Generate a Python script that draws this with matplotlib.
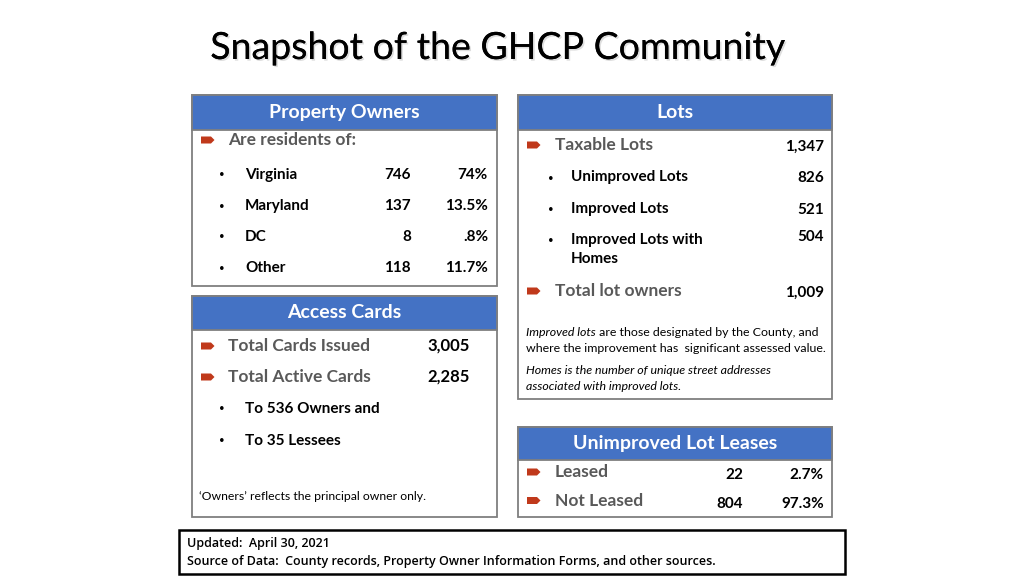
import matplotlib
matplotlib.use('Agg')
import matplotlib.pyplot as plt
import matplotlib.patches as mpatches
import matplotlib.patheffects as pe

# ── Data ────────────────────────────────────────────────────────────────────
title = 'Snapshot of the GHCP Community'

residence_states = ['Virginia', 'Maryland', 'DC', 'Other']
residence_counts = ['746', '137', '8', '118']
residence_pcts = ['74%', '13.5%', '.8%', '11.7%']

taxable_lots = '1,347'
lot_types = ['Unimproved Lots', 'Improved Lots', 'Improved Lots with\nHomes']
lot_counts = ['826', '521', '504']
total_lot_owners = '1,009'

card_labels = ['Total Cards Issued', 'Total Active Cards']
card_counts = ['3,005', '2,285']
card_recipients = ['To 536 Owners and', 'To 35 Lessees']

lease_labels = ['Leased', 'Not Leased']
lease_counts = ['22', '804']
lease_pcts = ['2.7%', '97.3%']

updated = 'Updated:  April 30, 2021'
source = 'Source of Data:  County records, Property Owner Information Forms, and other sources.'

# ── Theme ───────────────────────────────────────────────────────────────────
BLUE = '#4472C4'
BORDER = '#7F7F7F'
GRAY = '#595959'
ARROW = '#C0391B'
FONT = 'Lato'

plt.rcParams['font.family'] = [FONT, 'DejaVu Sans']

fig = plt.figure(figsize=(10.24, 5.76), dpi=100)
ax = fig.add_axes([0, 0, 1, 1])
ax.set_xlim(0, 1024)
ax.set_ylim(576, 0)
ax.axis('off')


def panel(x0, y0, x1, y1, head_h, label):
    ax.add_patch(mpatches.Rectangle((x0, y0), x1 - x0, y1 - y0, facecolor='white',
                                    edgecolor=BORDER, linewidth=1.3))
    ax.add_patch(mpatches.Rectangle((x0, y0), x1 - x0, head_h, facecolor=BLUE,
                                    edgecolor=BORDER, linewidth=1.3))
    ax.text((x0 + x1) / 2, y0 + head_h / 2, label, ha='center', va='center',
            color='white', fontsize=14, fontweight='bold')


def arrow(x, y):
    pts = [(x, y - 3.5), (x + 10, y - 3.5), (x + 13.5, y), (x + 10, y + 3.5), (x, y + 3.5)]
    ax.add_patch(mpatches.Polygon(pts, closed=True, facecolor=ARROW, edgecolor='none'))


def bullet(x, y):
    ax.text(x, y, '•', ha='center', va='center', fontsize=7, color='black')


def bold(x, y, s, ha='left', size=11):
    ax.text(x, y, s, ha=ha, va='center', fontsize=size, fontweight='bold', color='black')


def heading(x, y, s, size=12.5):
    ax.text(x, y, s, ha='left', va='center', fontsize=size, fontweight='bold', color=GRAY)


# Title with faint shadow
ax.text(498, 48, title, ha='center', va='center', fontsize=27, color='black',
        path_effects=[pe.withSimplePatchShadow(offset=(1.2, -1.2), shadow_rgbFace='#C8C8C8', alpha=0.6),
                      pe.Normal()])

# ── Property Owners ─────────────────────────────────────────────────────────
panel(192, 95, 497, 286, 35, 'Property Owners')
arrow(201, 140)
heading(228, 140, 'Are residents of:', size=12.5)
for i, (st, cnt, pct) in enumerate(zip(residence_states, residence_counts, residence_pcts)):
    y = 175 + i * 31
    bullet(222, y)
    bold(245, y, st)
    bold(411, y, cnt, ha='right')
    bold(488, y, pct, ha='right')

# ── Lots ────────────────────────────────────────────────────────────────────
panel(518, 95, 832, 399, 35, 'Lots')
arrow(527, 145)
heading(555, 145, 'Taxable Lots')
bold(824, 147, taxable_lots, ha='right')
for i, (lt, cnt) in enumerate(zip(lot_types, lot_counts)):
    y = 178 + i * 31.5
    bullet(551, y)
    ax.text(571, y - 8, lt, ha='left', va='top', fontsize=11, fontweight='bold',
            color='black', linespacing=1.45)
    bold(824, y - (4 if i == 2 else 0), cnt, ha='right')
arrow(527, 291)
heading(555, 291, 'Total lot owners')
bold(824, 293, total_lot_owners, ha='right')

fig.canvas.draw()
renderer = fig.canvas.get_renderer()
inv = ax.transData.inverted()


def mixed_line(x, y, parts, size=8.9):
    # draw consecutive text runs of different style on one line
    for s, style in parts:
        t = ax.text(x, y, s, ha='left', va='center', fontsize=size, color='black',
                    style=style)
        bb = t.get_window_extent(renderer=renderer)
        x = inv.transform((bb.x1, bb.y0))[0]


mixed_line(526, 333, [('Improved lots', 'italic'), (' are those designated by the County, and', 'normal')])
mixed_line(526, 349, [('where the improvement has  significant assessed value.', 'normal')])
mixed_line(526, 371, [('Homes is the number of unique street addresses', 'italic')])
mixed_line(526, 387, [('associated with improved lots.', 'italic')])

# ── Access Cards ────────────────────────────────────────────────────────────
panel(192, 296, 497, 517, 34, 'Access Cards')
for i, (lab, cnt) in enumerate(zip(card_labels, card_counts)):
    y = 346 + i * 31
    arrow(201, y)
    heading(228, y, lab)
    bold(470, y, cnt, ha='right', size=12)
for i, rec in enumerate(card_recipients):
    y = 409 + i * 32
    bullet(222, y)
    bold(245, y, rec)
ax.text(199, 497, '\u2018Owners\u2019 reflects the principal owner only.', ha='left', va='center',
        fontsize=8.8, color='black')

# ── Unimproved Lot Leases ───────────────────────────────────────────────────
panel(518, 427, 832, 517, 33, 'Unimproved Lot Leases')
for i, (lab, cnt, pct) in enumerate(zip(lease_labels, lease_counts, lease_pcts)):
    y = 472 + i * 28.5
    arrow(527, y)
    heading(555, y, lab)
    bold(743, y + 3, cnt, ha='right')
    bold(824, y + 3, pct, ha='right')

# ── Footer ──────────────────────────────────────────────────────────────────
ax.add_patch(mpatches.Rectangle((179, 530), 666, 44, facecolor='white',
                                edgecolor='black', linewidth=1.8))
for y, s in [(543, updated), (561, source)]:
    ax.text(187, y, s, ha='left', va='center', fontsize=9, fontweight='semibold',
            color='black', family=['Open Sans', 'DejaVu Sans'])

fig.savefig('out.png', dpi=100)
